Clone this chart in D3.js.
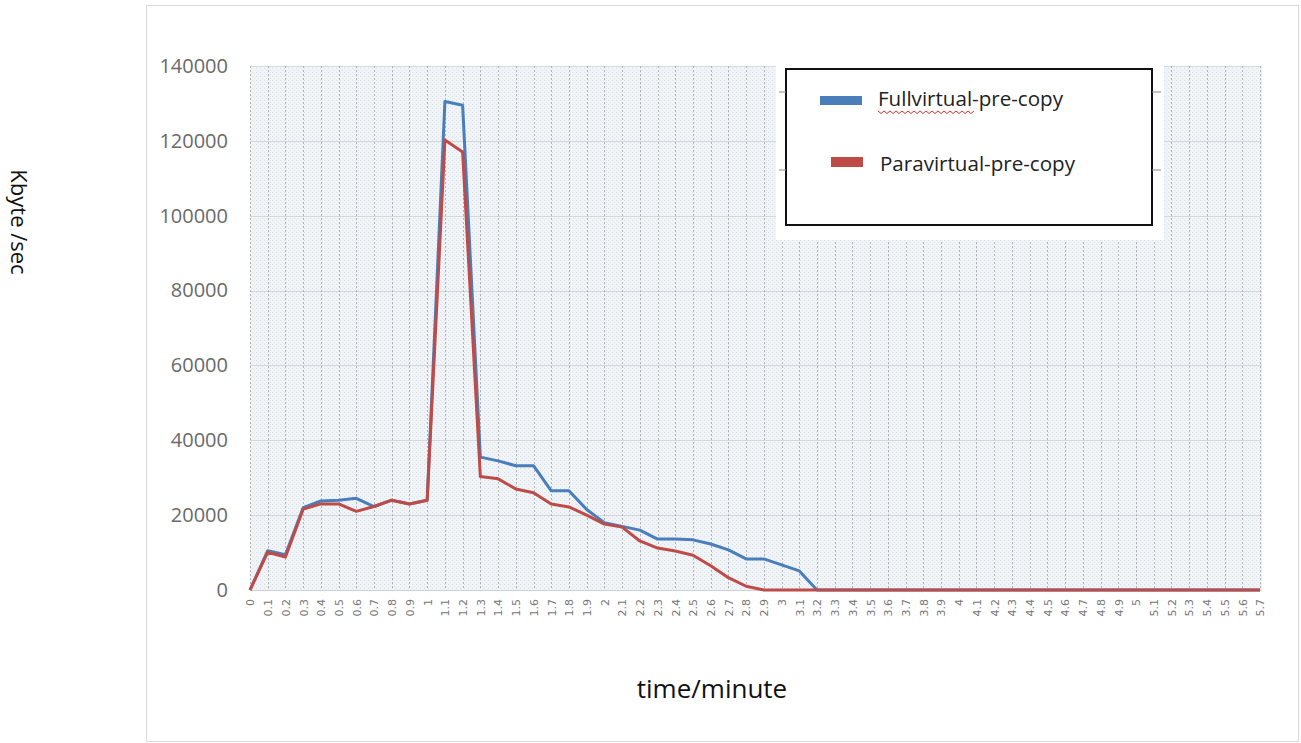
<!DOCTYPE html>
<html>
<head>
<meta charset="utf-8">
<script src="https://cdn.jsdelivr.net/npm/d3@7"></script>
<style>
  body { margin: 0; background: #fff; }
  svg { display: block; }
</style>
</head>
<body>
<div id="chart"></div>
<script>
// time labels (minutes) on the category axis
var timeLabels = ["0","0.1","0.2","0.3","0.4","0.5","0.6","0.7","0.8","0.9",
  "1","1.1","1.2","1.3","1.4","1.5","1.6","1.7","1.8","1.9",
  "2","2.1","2.2","2.3","2.4","2.5","2.6","2.7","2.8","2.9",
  "3","3.1","3.2","3.3","3.4","3.5","3.6","3.7","3.8","3.9",
  "4","4.1","4.2","4.3","4.4","4.5","4.6","4.7","4.8","4.9",
  "5","5.1","5.2","5.3","5.4","5.5","5.6","5.7"];

// Kbyte/sec
var fullVirtual = [0,10500,9400,22000,23800,24000,24500,22300,24000,23000,
  24000,130500,129500,35500,34500,33200,33200,26500,26500,21500,
  18000,17000,16000,13600,13600,13400,12300,10700,8300,8300,
  6700,5100,0,0,0,0,0,0,0,0,
  0,0,0,0,0,0,0,0,0,0,
  0,0,0,0,0,0,0,0];
var paraVirtual = [0,10100,8800,21600,23000,23000,21000,22300,24000,23000,
  24000,120200,117000,30300,29700,27000,26000,23000,22200,20000,
  17600,16800,13100,11200,10400,9300,6500,3300,1000,0,
  0,0,0,0,0,0,0,0,0,0,
  0,0,0,0,0,0,0,0,0,0,
  0,0,0,0,0,0,0,0];

var yTicks = [0,20000,40000,60000,80000,100000,120000,140000];
var seriesNames = ["Fullvirtual-pre-copy", "Paravirtual-pre-copy"];
var seriesColors = ["#4a7ebb", "#be4b48"];

var width = 1301, height = 743;
var plot = {left: 250, right: 1260, top: 66, bottom: 590};

var svg = d3.select("#chart").append("svg")
    .attr("width", width)
    .attr("height", height);

//pattern fill of the plot area
var defs = svg.append("defs");
var pat = defs.append("pattern")
    .attr("id", "dots")
    .attr("width", 4).attr("height", 4)
    .attr("patternUnits", "userSpaceOnUse");
pat.append("rect").attr("width", 4).attr("height", 4).attr("fill", "#f1f4f7");
pat.append("rect").attr("x", 0).attr("y", 0).attr("width", 1).attr("height", 1).attr("fill", "#d8dfe6");
pat.append("rect").attr("x", 2).attr("y", 2).attr("width", 1).attr("height", 1).attr("fill", "#e1e6eb");

//chart border
svg.append("rect")
    .attr("x", 146.5).attr("y", 5.5)
    .attr("width", 1152).attr("height", 736)
    .attr("fill", "none")
    .attr("stroke", "#d9d9d9");

var x = d3.scaleLinear()
    .domain([0, timeLabels.length - 1])
    .range([plot.left, plot.right]);

var y = d3.scaleLinear()
    .domain([0, 140000])
    .range([plot.bottom, plot.top]);

svg.append("rect")
    .attr("x", plot.left).attr("y", plot.top)
    .attr("width", plot.right - plot.left + 2)
    .attr("height", plot.bottom - plot.top)
    .attr("fill", "url(#dots)");

//horizontal grid
svg.append("g")
  .selectAll("line")
  .data(yTicks)
  .enter().append("line")
    .attr("x1", plot.left).attr("x2", plot.right + 2)
    .attr("y1", function(d) { return Math.round(y(d)) + 0.5; })
    .attr("y2", function(d) { return Math.round(y(d)) + 0.5; })
    .attr("stroke", "#d4d9de");

//vertical dashed grid, one per category
svg.append("g")
  .selectAll("line")
  .data(d3.range(timeLabels.length))
  .enter().append("line")
    .attr("x1", function(d) { return Math.round(x(d)) + 0.5; })
    .attr("x2", function(d) { return Math.round(x(d)) + 0.5; })
    .attr("y1", plot.top).attr("y2", plot.bottom)
    .attr("stroke", "#aeb4ba")
    .attr("stroke-dasharray", "2,2");

//y axis labels
var yAxis = svg.append("g")
    .attr("transform", "translate(" + (plot.left - 22) + ",0)")
    .call(d3.axisLeft(y).tickValues(yTicks).tickSize(0).tickPadding(0).tickFormat(d3.format("d")));
yAxis.select(".domain").remove();
yAxis.selectAll("text")
    .attr("font-family", "Open Sans")
    .attr("font-size", "20px")
    .attr("fill", "#6a6a6a");

//x axis line
svg.append("line")
    .attr("x1", plot.left).attr("x2", plot.right + 2)
    .attr("y1", plot.bottom + 0.5).attr("y2", plot.bottom + 0.5)
    .attr("stroke", "#d0d0d0");

//x axis labels, rotated
var xAxis = svg.append("g")
    .attr("transform", "translate(0," + (plot.bottom + 9) + ")")
    .call(d3.axisBottom(x).tickValues(d3.range(timeLabels.length)).tickSize(0).tickPadding(0)
      .tickFormat(function(i) { return timeLabels[i]; }));
xAxis.select(".domain").remove();
xAxis.selectAll("text")
    .attr("font-family", "DejaVu Sans")
    .attr("font-size", "11px")
    .attr("fill", "#777")
    .attr("text-anchor", "end")
    .attr("dy", "0.35em")
    .attr("transform", "rotate(-90)");

//lines
var line = d3.line()
    .x(function(d, i) { return x(i); })
    .y(function(d) { return y(d); });

[fullVirtual, paraVirtual].forEach(function(s, k) {
  svg.append("path")
      .datum(s)
      .attr("d", line)
      .attr("fill", "none")
      .attr("stroke", seriesColors[k])
      .attr("stroke-width", 3)
      .attr("stroke-linejoin", "round");
});

//legend with its white backing
svg.append("rect")
    .attr("x", 776).attr("y", 62)
    .attr("width", 388).attr("height", 178)
    .attr("fill", "#fff");
svg.append("rect")
    .attr("x", 786).attr("y", 69)
    .attr("width", 366).attr("height", 156)
    .attr("fill", "#fff")
    .attr("stroke", "#111")
    .attr("stroke-width", 2);

[92, 170].forEach(function(t) {
  svg.append("line").attr("x1", 779).attr("x2", 786).attr("y1", t).attr("y2", t).attr("stroke", "#888");
  svg.append("line").attr("x1", 1152).attr("x2", 1161).attr("y1", t).attr("y2", t).attr("stroke", "#888");
});

var legendRows = [
  {swatch: [820, 96, 42, 9], tx: 878, ty: 106, len: 185},
  {swatch: [831, 157, 32, 10], tx: 880, ty: 171, len: 195}
];
legendRows.forEach(function(r, k) {
  svg.append("rect")
      .attr("x", r.swatch[0]).attr("y", r.swatch[1])
      .attr("width", r.swatch[2]).attr("height", r.swatch[3])
      .attr("fill", seriesColors[k]);
  svg.append("text")
      .attr("x", r.tx).attr("y", r.ty)
      .attr("font-family", "Liberation Sans Narrow, Open Sans")
      .attr("font-size", "20px")
      .attr("fill", "#222")
      .attr("textLength", r.len)
      .attr("lengthAdjust", "spacingAndGlyphs")
      .text(seriesNames[k]);
});

//spell check squiggle under "Fullvirtual"
var squiggle = d3.range(0, 98, 3).map(function(d, i) { return [878 + d, 112 + (i % 2 ? 1.5 : -1)]; });
svg.append("path")
    .attr("d", d3.line()(squiggle))
    .attr("fill", "none")
    .attr("stroke", "#e03030")
    .attr("stroke-width", 1);

//axis titles
svg.append("text")
    .attr("transform", "translate(11,222) rotate(90)")
    .attr("text-anchor", "middle")
    .attr("font-family", "Open Sans")
    .attr("font-size", "22px")
    .attr("fill", "#111")
    .text("Kbyte /sec");

svg.append("text")
    .attr("x", 712).attr("y", 698)
    .attr("text-anchor", "middle")
    .attr("font-family", "Open Sans")
    .attr("font-size", "26px")
    .attr("fill", "#111")
    .text("time/minute");
</script>
</body>
</html>
